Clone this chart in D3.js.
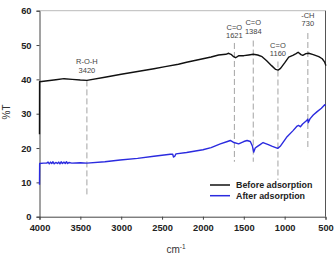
<!DOCTYPE html>
<html lang="en">
<head>
<meta charset="UTF-8">
<title>FTIR spectra</title>
<script src="https://d3js.org/d3.v7.min.js"></script>
<style>
  body { margin: 0; background: #fff; }
  svg { font-family: Arial, "Liberation Sans", sans-serif; }
  .tick text { font-weight: bold; fill: #222; }
  .note { font-size: 7.5px; fill: #444; text-anchor: middle; }
</style>
</head>
<body>
<svg id="chart"></svg>
<script>
// wavenumber (cm-1), %T
const beforeWn = [4000, 3999, 3900, 3800, 3700, 3600, 3500, 3420, 3200, 3000, 2800, 2600, 2462, 2300, 2200, 2000, 1900, 1808, 1720, 1685, 1650, 1624, 1600, 1560, 1500, 1440, 1384, 1330, 1276, 1220, 1160, 1110, 1080, 1050, 1000, 950, 900, 860, 835, 800, 778, 740, 705, 650, 582, 540, 510, 495];
const beforeT  = [24, 39.3, 39.6, 39.9, 40.2, 40.0, 39.8, 39.7, 40.6, 41.5, 42.3, 43.1, 43.7, 44.4, 45.0, 46.0, 46.5, 47.1, 47.3, 47.6, 47.2, 46.6, 46.3, 46.9, 46.9, 47.1, 47.3, 47.1, 46.6, 45.4, 44.0, 42.9, 42.7, 43.2, 44.8, 46.5, 47.0, 47.5, 47.9, 47.2, 47.0, 47.5, 47.6, 47.2, 46.6, 46.0, 45.0, 44.0];

const afterWn = [4000, 3998, 3950, 3912, 3895, 3880, 3865, 3850, 3835, 3820, 3800, 3780, 3765, 3750, 3735, 3720, 3700, 3685, 3670, 3655, 3640, 3605, 3500, 3420, 3200, 3013, 2800, 2600, 2400, 2370, 2360, 2345, 2330, 2200, 2000, 1900, 1787, 1700, 1665, 1620, 1563, 1500, 1460, 1420, 1395, 1379, 1360, 1337, 1300, 1264, 1200, 1150, 1085, 1050, 1000, 970, 900, 847, 830, 807, 780, 730, 718, 712, 690, 650, 602, 550, 510, 500];
const afterT  = [9.3, 15.5, 15.6, 15.6, 15.9, 15.4, 15.9, 15.5, 16.0, 15.4, 15.8, 15.5, 15.9, 15.4, 16.0, 15.5, 15.9, 15.5, 16.0, 15.5, 15.8, 15.6, 15.7, 15.6, 16.0, 16.5, 17.0, 17.6, 18.2, 18.2, 17.4, 17.6, 18.3, 18.7, 19.5, 20.1, 21.2, 21.9, 22.2, 21.6, 21.2, 21.9, 22.2, 21.9, 20.6, 18.8, 20.0, 20.4, 21.0, 21.6, 21.0, 20.5, 19.9, 20.6, 22.3, 23.3, 25.0, 26.4, 26.6, 26.2, 27.0, 28.0, 28.4, 27.4, 28.5, 29.6, 30.6, 31.6, 32.6, 32.3];

// marker lines: position, top %T, bottom %T, label lines
const markWn    = [3420, 1615, 1384, 1082, 716];
const markTop   = [39.7, 50.6, 51.3, 45.2, 53.5];
const markBot   = [5.8, 16.0, 16.0, 10.7, 19.4];
const markLabel = [["R-O-H", "3420"], ["C=O", "1621"], ["C=O", "1384"], ["C=O", "1160"], ["-CH", "730"]];
const markLabelT = [44.4, 54.4, 55.7, 49.1, 57.9]; // %T of first label line

const xTicks = [4000, 3500, 3000, 2500, 2000, 1500, 1000, 500];
const yTicks = [0, 10, 20, 30, 40, 50, 60];

const seriesNames = ["Before adsorption", "After adsorption"];
const seriesColors = ["#111", "#2b2bdf"];

const W = 335, H = 254;
const svg = d3.select("#chart").attr("width", W).attr("height", H);

const x = d3.scaleLinear().domain([4000, 500]).range([39.5, 325.5]);
const y = d3.scaleLinear().domain([0, 60]).range([216.7, 10.7]);

// frame
svg.append("line").attr("x1", x(4000)).attr("x2", x(500)).attr("y1", y(60)).attr("y2", y(60))
  .attr("stroke", "#bbb").attr("stroke-width", 1);
svg.append("line").attr("x1", x(500)).attr("x2", x(500)).attr("y1", y(60)).attr("y2", y(0))
  .attr("stroke", "#555").attr("stroke-width", 1);

const xAxis = svg.append("g").attr("transform", `translate(0,${y(0)})`)
  .call(d3.axisBottom(x).tickValues(xTicks).tickSize(3).tickPadding(5).tickFormat(d3.format("d")));
const yAxis = svg.append("g").attr("transform", `translate(${x(4000)},0)`)
  .call(d3.axisLeft(y).tickValues(yTicks).tickSize(3).tickPadding(5));
[xAxis, yAxis].forEach(g => {
  g.select(".domain").attr("stroke", "#444");
  g.selectAll(".tick line").attr("stroke", "#444");
  g.selectAll(".tick text").attr("font-size", 9.3).attr("font-family", "Arial, 'Liberation Sans', sans-serif");
});

// dashed markers
markWn.forEach((wn, i) => {
  svg.append("line").attr("x1", x(wn)).attr("x2", x(wn))
    .attr("y1", y(markTop[i])).attr("y2", y(markBot[i]))
    .attr("stroke", "#999").attr("stroke-width", 0.9).attr("stroke-dasharray", "6,3");
  const t = svg.append("text").attr("class", "note").attr("x", x(wn)).attr("y", y(markLabelT[i]));
  markLabel[i].forEach((s, j) => {
    t.append("tspan").attr("x", x(wn)).attr("dy", j ? "1.1em" : 0).text(s);
  });
});

const line = d3.line().x(d => x(d[0])).y(d => y(d[1]));
const series = [d3.zip(beforeWn, beforeT), d3.zip(afterWn, afterT)];
series.slice().reverse().forEach((s, k) => {
  const i = series.length - 1 - k;
  svg.append("path").datum(s).attr("d", line)
    .attr("fill", "none").attr("stroke", seriesColors[i]).attr("stroke-width", 1.4)
    .attr("stroke-linejoin", "round");
});

// legend
const leg = svg.append("g").attr("transform", "translate(210,185)");
seriesNames.forEach((n, i) => {
  leg.append("line").attr("x1", 0).attr("x2", 20).attr("y1", i * 10.7).attr("y2", i * 10.7)
    .attr("stroke", seriesColors[i]).attr("stroke-width", 1.5);
  leg.append("text").attr("x", 26).attr("y", i * 10.7 + 3.2).attr("font-size", 8.9)
    .attr("font-weight", "bold").attr("fill", "#222").text(n);
});

// axis titles
svg.append("text").attr("transform", "translate(10,112) rotate(-90)").attr("text-anchor", "middle")
  .attr("font-size", 10).attr("fill", "#333").text("%T");
const xt = svg.append("text").attr("x", 176).attr("y", 253).attr("text-anchor", "middle")
  .attr("font-size", 10).attr("fill", "#333");
xt.append("tspan").text("cm");
xt.append("tspan").attr("font-size", 6.5).attr("dy", -4.5).text("-1");
</script>
</body>
</html>
